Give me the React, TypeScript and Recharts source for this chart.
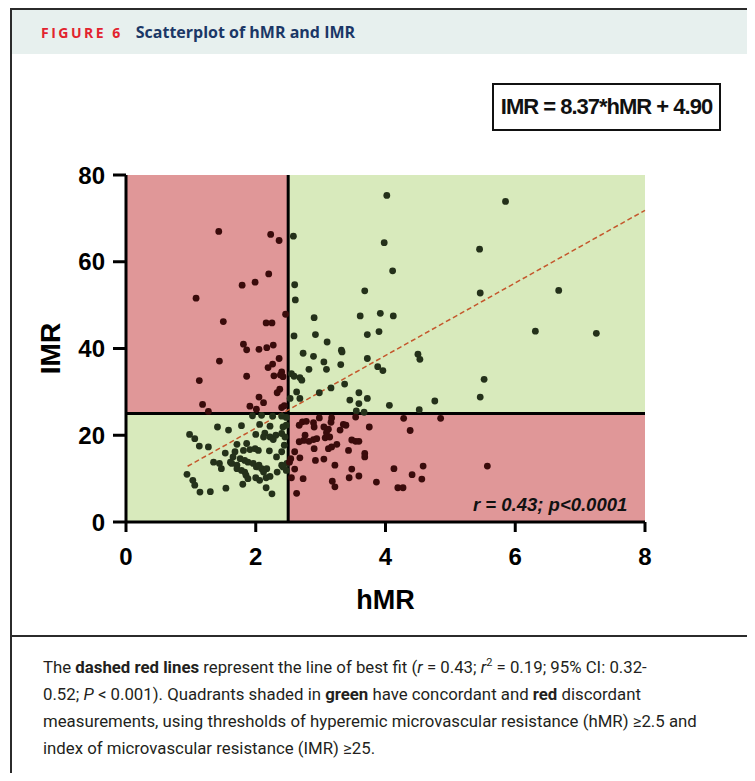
import { ScatterChart, Scatter, XAxis, YAxis, ReferenceArea, ReferenceLine, Label } from "recharts"

const xTicks = [0, 2, 4, 6, 8]
const yTicks = [0, 20, 40, 60, 80]
const hmrCut = 2.5
const imrCut = 25
const fitSlope = 8.37
const fitIntercept = 4.9
const fitStart = 0.95
const fitEnd = 8

// hMR < 2.5, IMR >= 25 (discordant)
const upperLeft: [number, number][] = [
  [1.43, 67.0], [2.23, 66.3], [2.36, 64.9], [2.2, 57.2], [1.99, 55.3], [1.79, 54.6],
  [1.08, 51.6], [2.46, 47.9], [1.5, 46.2], [2.16, 45.9], [2.25, 45.9], [1.81, 41.0],
  [1.86, 39.7], [2.05, 39.8], [2.17, 40.2], [2.27, 40.8], [1.44, 37.1], [2.36, 37.7],
  [2.26, 36.4], [2.19, 35.6], [1.13, 32.6], [1.86, 33.6], [2.28, 33.7], [2.4, 34.6],
  [2.42, 33.5], [2.38, 33.9], [2.37, 30.6], [2.33, 29.8], [2.05, 28.8], [2.12, 27.5],
  [1.91, 26.7], [2.01, 26.0], [2.4, 26.4], [1.18, 27.1], [1.27, 25.5], [2.44, 26.8],
]

// hMR >= 2.5, IMR >= 25 (concordant)
const upperRight: [number, number][] = [
  [2.58, 65.9], [4.02, 75.3], [3.98, 64.4], [4.11, 57.9], [5.45, 62.9], [5.85, 73.9],
  [2.6, 54.7], [2.61, 51.2], [2.9, 47.1], [3.68, 53.3], [3.61, 47.5], [3.92, 48.1],
  [4.12, 47.5], [5.46, 52.8], [2.59, 42.9], [2.92, 43.2], [3.1, 41.5], [3.72, 43.2],
  [3.9, 43.9], [3.32, 39.6], [2.73, 38.9], [2.89, 38.2], [3.33, 39.2], [3.05, 36.9],
  [3.09, 35.2], [3.31, 36.3], [3.72, 37.7], [2.82, 35.2], [3.88, 35.8], [3.96, 34.9],
  [4.5, 38.7], [4.53, 37.5], [2.55, 34.2], [2.59, 33.6], [2.68, 33.3], [2.71, 32.7],
  [3.37, 31.8], [3.16, 30.9], [2.63, 30.0], [2.68, 28.5], [2.53, 28.5], [2.98, 29.8],
  [3.59, 29.8], [3.72, 28.5], [3.59, 27.3], [3.45, 28.1], [4.06, 26.9], [4.52, 25.9],
  [4.76, 27.9], [5.46, 28.8], [5.52, 32.9], [3.55, 25.6], [3.67, 25.3], [6.31, 44.0],
  [6.67, 53.4], [7.25, 43.5],
]

// hMR >= 2.5, IMR < 25 (discordant)
const lowerRight: [number, number][] = [
  [2.72, 23.1], [2.78, 23.2], [2.67, 22.3], [2.98, 24.0], [2.89, 22.9], [2.9, 21.9],
  [3.17, 24.0], [3.16, 23.0], [3.05, 21.9], [3.12, 21.4], [3.35, 22.5], [3.39, 22.3],
  [3.3, 21.2], [3.54, 24.2], [3.75, 21.9], [2.76, 20.0], [2.82, 18.6], [2.74, 18.8],
  [2.89, 19.0], [2.94, 19.2], [2.67, 18.5], [3.07, 19.4], [3.14, 19.6], [3.09, 20.6],
  [2.9, 16.9], [3.12, 16.9], [3.17, 17.3], [3.25, 17.9], [3.48, 18.9], [3.54, 18.6],
  [3.59, 18.6], [3.43, 16.5], [3.68, 15.8], [3.68, 15.0], [2.6, 16.2], [2.68, 14.8],
  [2.92, 14.2], [3.05, 14.5], [3.22, 13.1], [2.54, 14.6], [2.52, 13.8], [2.6, 12.2],
  [2.73, 10.0], [2.55, 10.2], [3.48, 12.2], [3.44, 10.2], [3.59, 10.6], [3.18, 9.4],
  [3.22, 8.1], [3.86, 9.2], [2.63, 6.6], [4.28, 23.9], [4.85, 23.9], [4.38, 21.1],
  [4.13, 12.3], [4.58, 12.9], [4.41, 10.9], [4.56, 9.9], [4.19, 7.9], [4.27, 7.9],
  [5.57, 12.9],
]

// hMR < 2.5, IMR < 25 (concordant)
const lowerLeft: [number, number][] = [
  [1.95, 24.5], [2.09, 24.6], [2.26, 24.4], [2.4, 24.4], [2.47, 24.1], [2.47, 22.3],
  [2.06, 22.5], [2.22, 22.1], [1.41, 21.9], [1.58, 21.2], [1.78, 22.2], [0.98, 20.2],
  [1.06, 19.2], [2.0, 20.2], [2.14, 20.5], [2.12, 19.6], [2.22, 19.6], [2.31, 20.0],
  [2.27, 19.0], [1.13, 17.5], [1.27, 17.3], [1.53, 15.9], [1.71, 17.9], [1.86, 18.1],
  [1.81, 16.5], [1.68, 16.2], [1.91, 16.7], [1.99, 16.9], [2.04, 16.5], [2.21, 16.4],
  [1.65, 15.0], [1.61, 13.8], [1.76, 14.6], [1.83, 14.2], [1.35, 13.8], [1.44, 13.5],
  [1.47, 12.3], [1.63, 13.5], [1.71, 13.1], [1.88, 13.8], [1.96, 13.5], [2.01, 12.7],
  [2.05, 13.1], [2.09, 12.3], [2.17, 12.3], [2.12, 11.5], [1.71, 12.3], [1.78, 11.9],
  [1.83, 11.5], [1.85, 10.8], [1.88, 10.0], [2.0, 10.2], [2.06, 9.6], [2.16, 10.2],
  [2.22, 10.5], [2.33, 11.5], [2.4, 13.1], [2.32, 15.0], [0.94, 11.0], [1.03, 9.6],
  [1.06, 8.5], [1.14, 6.9], [1.3, 7.0], [1.54, 7.8], [1.8, 8.7], [2.16, 7.9],
  [2.25, 6.5], [2.44, 17.7], [2.48, 13.5], [2.47, 11.9], [2.4, 20.4], [2.42, 21.9],
  [2.45, 19.6], [2.4, 16.2], [2.42, 12.7],
]

const toPoints = (arr: [number, number][]) => arr.map(([x, y]) => ({ x, y }))

const RED_BG = "#e09798"
const GREEN_BG = "#d8eabc"
const RED_DOT = "#3a0b0b"
const GREEN_DOT = "#24311a"

const dot = (color: string) => (props: any) => (
  <circle cx={props.cx} cy={props.cy} r={3.4} fill={color} />
)

const axisFont = "'Liberation Sans', Arial, sans-serif"

export default function App() {
  return (
    <div style={{ position: "relative", width: 745, height: 773, marginBottom: -8, marginRight: -8, overflow: "hidden", fontFamily: axisFont }}>
      {/* frame */}
      <div style={{ position: "absolute", left: 2, top: 0, width: 741, height: 800, border: "2px solid #2b2b2b", boxSizing: "border-box" }} />
      {/* header */}
      <div style={{ position: "absolute", left: 4, top: 2, width: 737, height: 44, background: "#e7f0ee", display: "flex", alignItems: "center" }}>
        <span style={{ marginLeft: 29, color: "#e2232e", fontWeight: 700, fontSize: 14, letterSpacing: 2.5, fontFamily: "'Open Sans', sans-serif" }}>FIGURE 6</span>
        <span style={{ marginLeft: 13, color: "#1b3766", fontWeight: 700, fontSize: 16, fontFamily: "'Open Sans', sans-serif" }}>Scatterplot of hMR and IMR</span>
      </div>

      {/* equation box */}
      <div style={{ position: "absolute", left: 484, top: 75, width: 229, height: 48, border: "2px solid #111", boxSizing: "border-box", display: "flex", alignItems: "center", justifyContent: "center", fontWeight: 700, fontSize: 22, letterSpacing: -1, color: "#111" }}>
        IMR = 8.37*hMR + 4.90
      </div>

      <div style={{ position: "absolute", left: 2, top: 46 }}>
        <ScatterChart width={739} height={581} margin={{ top: 121, right: 104, bottom: 13, left: 0 }}>
          <ReferenceArea x1={0} x2={hmrCut} y1={imrCut} y2={80} fill={RED_BG} fillOpacity={1} stroke="none" />
          <ReferenceArea x1={hmrCut} x2={8} y1={imrCut} y2={80} fill={GREEN_BG} fillOpacity={1} stroke="none" />
          <ReferenceArea x1={0} x2={hmrCut} y1={0} y2={imrCut} fill={GREEN_BG} fillOpacity={1} stroke="none" />
          <ReferenceArea x1={hmrCut} x2={8} y1={0} y2={imrCut} fill={RED_BG} fillOpacity={1} stroke="none" />
          <XAxis
            type="number"
            dataKey="x"
            domain={[0, 8]}
            ticks={xTicks}
            height={100}
            stroke="#000"
            strokeWidth={3}
            tickSize={10}
            tickMargin={16}
            tick={{ fill: "#000", fontSize: 24, fontWeight: 700, fontFamily: axisFont }}
          >
            <Label
              content={({ viewBox }: any) => (
                <text x={viewBox.x + viewBox.width / 2} y={viewBox.y + 78} textAnchor="middle" dominantBaseline="central" fontSize={27} fontWeight={700} fontFamily={axisFont} fill="#000">
                  hMR
                </text>
              )}
            />
          </XAxis>
          <YAxis
            type="number"
            dataKey="y"
            domain={[0, 80]}
            ticks={yTicks}
            width={116}
            stroke="#000"
            strokeWidth={3}
            tickSize={13}
            tickMargin={8}
            tick={{ fill: "#000", fontSize: 24, fontWeight: 700, fontFamily: axisFont }}
          >
            <Label
              content={({ viewBox }: any) => {
                const cx = viewBox.x + 40
                const cy = viewBox.y + viewBox.height / 2
                return (
                  <text x={cx} y={cy} transform={`rotate(-90, ${cx}, ${cy})`} textAnchor="middle" dominantBaseline="central" fontSize={28} fontWeight={700} fontFamily={axisFont} fill="#000">
                    IMR
                  </text>
                )
              }}
            />
          </YAxis>
          <ReferenceLine x={hmrCut} stroke="#000" strokeWidth={3} />
          <ReferenceLine y={imrCut} stroke="#000" strokeWidth={3} />
          <Scatter data={toPoints(lowerLeft)} shape={dot(GREEN_DOT)} isAnimationActive={false} />
          <Scatter data={toPoints(upperRight)} shape={dot(GREEN_DOT)} isAnimationActive={false} />
          <Scatter data={toPoints(upperLeft)} shape={dot(RED_DOT)} isAnimationActive={false} />
          <Scatter data={toPoints(lowerRight)} shape={dot(RED_DOT)} isAnimationActive={false} />
          <ReferenceLine
            segment={[
              { x: fitStart, y: fitSlope * fitStart + fitIntercept },
              { x: fitEnd, y: fitSlope * fitEnd + fitIntercept },
            ]}
            stroke="#c4572c"
            strokeWidth={1.5}
            strokeDasharray="5 3"
          />
        </ScatterChart>
      </div>

      {/* stats annotation */}
      <div style={{ position: "absolute", left: 465, top: 486, fontSize: 18.5, fontWeight: 700, fontStyle: "italic", color: "#111", whiteSpace: "nowrap" }}>
        r = 0.43; p&lt;0.0001
      </div>

      {/* divider */}
      <div style={{ position: "absolute", left: 2, top: 627, width: 741, height: 2, background: "#2b2b2b" }} />

      {/* caption */}
      <div style={{ position: "absolute", left: 35, top: 646, fontSize: 16.8, lineHeight: "27px", color: "#231f20", fontFamily: "Roboto, sans-serif", whiteSpace: "nowrap" }}>
        <div>The <b>dashed red lines</b> represent the line of best fit (<i>r</i> = 0.43; <i>r</i><sup style={{ fontSize: 11, lineHeight: 0 }}>2</sup> = 0.19; 95% CI: 0.32-</div>
        <div>0.52; <i>P</i> &lt; 0.001). Quadrants shaded in <b>green</b> have concordant and <b>red</b> discordant</div>
        <div>measurements, using thresholds of hyperemic microvascular resistance (hMR) ≥2.5 and</div>
        <div>index of microvascular resistance (IMR) ≥25.</div>
      </div>
    </div>
  )
}
